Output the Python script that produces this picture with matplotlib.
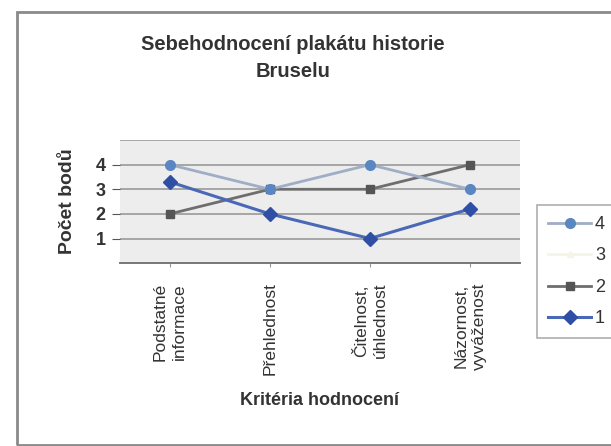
import matplotlib
matplotlib.use("Agg")
import matplotlib.pyplot as plt
from matplotlib.patches import Rectangle
import numpy as np

plt.rcParams['font.family'] = ['Liberation Sans', 'DejaVu Sans']

# Data
kriteria = ["Podstatné\ninformace", "Přehlednost", "Čitelnost,\núhlednost", "Názornost,\nvyváženost"]
serie_1 = [3.3, 2, 1, 2.2]
serie_2 = [2, 3, 3, 4]
serie_3 = [np.nan, np.nan, np.nan, np.nan]
serie_4 = [4, 3, 4, 3]
y_ticks = [1, 2, 3, 4]

fig = plt.figure(figsize=(6.11, 4.46), dpi=100)
ax = fig.add_axes([0.196, 0.410, 0.655, 0.276])

# outer chart frame
fig.patches.append(Rectangle((0.028, 0.003), 1.0, 0.97, transform=fig.transFigure,
                             fill=False, edgecolor="#8a8a8a", linewidth=2.0))

ax.set_facecolor("#ededed")
x = np.arange(len(kriteria))

l1, = ax.plot(x, serie_1, color="#4a68b5", lw=2.2, marker="D", ms=7,
              mfc="#2f4fa5", mec="#2f4fa5", zorder=4)
l2, = ax.plot(x, serie_2, color="#6e6e6e", lw=2.0, marker="s", ms=6,
              mfc="#555555", mec="#555555", zorder=3)
l3, = ax.plot(x, serie_3, color="#f6f4e6", lw=2.0, marker="^", ms=5, zorder=3)
l4, = ax.plot(x, serie_4, color="#9fadc6", lw=2.0, marker="o", ms=7,
              mfc="#5c86c2", mec="#5c86c2", zorder=3)

ax.set_xlim(-0.5, 3.5)
ax.set_ylim(0, 5)
ax.set_yticks(y_ticks)
ax.set_yticklabels([str(v) for v in y_ticks], fontsize=13, fontweight="bold",
                   color="#333333")
ax.yaxis.grid(True, color="#a0a0a0", lw=1.3)
ax.axhline(5, color="#a0a0a0", lw=1.3)
ax.set_axisbelow(True)
ax.tick_params(axis="y", length=6, color="#555555", pad=4)

ax.set_xticks(x)
ax.set_xticklabels(kriteria, rotation=90, fontsize=12.5, color="#333333",
                   ma="center", linespacing=1.3)
ax.tick_params(axis="x", length=3, color="#999999", pad=11)

for side in ["top", "right", "left"]:
    ax.spines[side].set_visible(False)
ax.spines["bottom"].set_color("#777777")
ax.spines["bottom"].set_linewidth(1.4)

ax.set_ylabel("Počet bodů", fontsize=14, fontweight="bold", color="#333333",
              labelpad=14)
ax.set_xlabel("Kritéria hodnocení", fontsize=13, fontweight="bold",
              color="#333333", labelpad=12)

fig.text(0.48, 0.87, "Sebehodnocení plakátu historie\nBruselu", ha="center",
         va="center", fontsize=14.5, fontweight="bold", color="#333333",
         linespacing=1.5)

handles = [l4, l3, l2, l1]
labels = ["4", "3", "2", "1"]
leg = fig.legend(handles, labels, loc="upper left", bbox_to_anchor=(0.879, 0.54),
                 fontsize=13, frameon=True, fancybox=False, handlelength=2.4,
                 labelspacing=0.8, borderpad=0.6, handletextpad=0.2,
                 borderaxespad=0)
leg.get_frame().set_edgecolor("#9a9a9a")
leg.get_frame().set_linewidth(1.2)
for t in leg.get_texts():
    t.set_color("#333333")

fig.savefig("out.png", dpi=100)
